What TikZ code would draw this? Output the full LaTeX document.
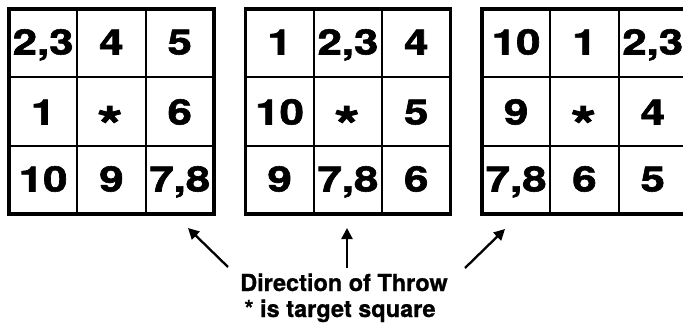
\documentclass[tikz,border=0pt]{standalone}
\usepackage{fontspec}
\setmainfont{TeX Gyre Heros}
\newfontface\heavy{TeX Gyre Heros Bold}[FakeBold=1.6]
\newfontface\semiheavy{TeX Gyre Heros Bold}[FakeBold=0.8]
\usetikzlibrary{arrows.meta}
\newcommand\dgt[1]{\scalebox{1.25}[1]{#1}}
\tikzset{
  outerbox/.style={line width=3.6pt},
  innerline/.style={line width=2.2pt},
  num/.style={anchor=base, inner sep=0pt, font=\fontsize{35}{35}\heavy},
  starmark/.style={anchor=base, inner sep=0pt, font=\fontsize{52}{52}\heavy},
  caption/.style={anchor=base, inner sep=0pt, font=\fontsize{23.5}{27}\semiheavy},
  throw/.style={line width=2.3pt, -{Triangle[length=11pt,width=11pt]}}
}
\begin{document}
\begin{tikzpicture}[x=1pt,y=-1pt]
\useasboundingbox (0,0) rectangle (683,324);
% grids
\foreach \ox in {9,245.5,482}{
  \draw[outerbox] (\ox,9) rectangle ++(204.9,204.9);
  \draw[innerline] (\ox+68.3,9) -- ++(0,204.9);
  \draw[innerline] (\ox+136.6,9) -- ++(0,204.9);
  \draw[innerline] (\ox,77.3) -- ++(204.9,0);
  \draw[innerline] (\ox,145.6) -- ++(204.9,0);
}
% cell texts
\foreach \nm/\x/\y/\t in {
  aa/43.15/54.5/{2,3}, ab/111.45/54.5/4, ac/179.75/54.5/5,
  ba/43.15/124.5/1, bc/179.75/124.5/6,
  ca/43.15/191.5/10, cb/111.45/191.5/9, cc/179.75/191.5/{7,8},
  da/279.65/54.5/1, db/347.95/54.5/{2,3}, dc/416.25/54.5/4,
  ea/279.65/124.5/10, ec/416.25/124.5/5,
  fa/279.65/191.5/9, fb/347.95/191.5/{7,8}, fc/416.25/191.5/6,
  ga/516.15/54.5/10, gb/584.45/54.5/1, gc/652.75/54.5/{2,3},
  ha/516.15/124.5/9, hc/652.75/124.5/4,
  ia/516.15/191.5/{7,8}, ib/584.45/191.5/6, ic/652.75/191.5/5}{
  \node[num] (\nm) at (\x,\y) {\dgt{\t}};
}
\foreach \nm/\x in {s1/110, s2/347, s3/583.5}{
  \node[starmark] (\nm) at (\x,144) {\dgt{*}};
}
% caption
\node[caption] (title) at (344,291) {Direction of Throw};
\node[caption] (note) at (340,317) {* is target square};
% arrows
\coordinate (l0) at (228,267); \coordinate (l1) at (188,228);
\coordinate (m0) at (347,268); \coordinate (m1) at (347,228);
\coordinate (r0) at (465,268); \coordinate (r1) at (505,229);
\draw[throw] (l0) -- (l1);
\draw[throw] (m0) -- (m1);
\draw[throw] (r0) -- (r1);
\end{tikzpicture}
\end{document}
